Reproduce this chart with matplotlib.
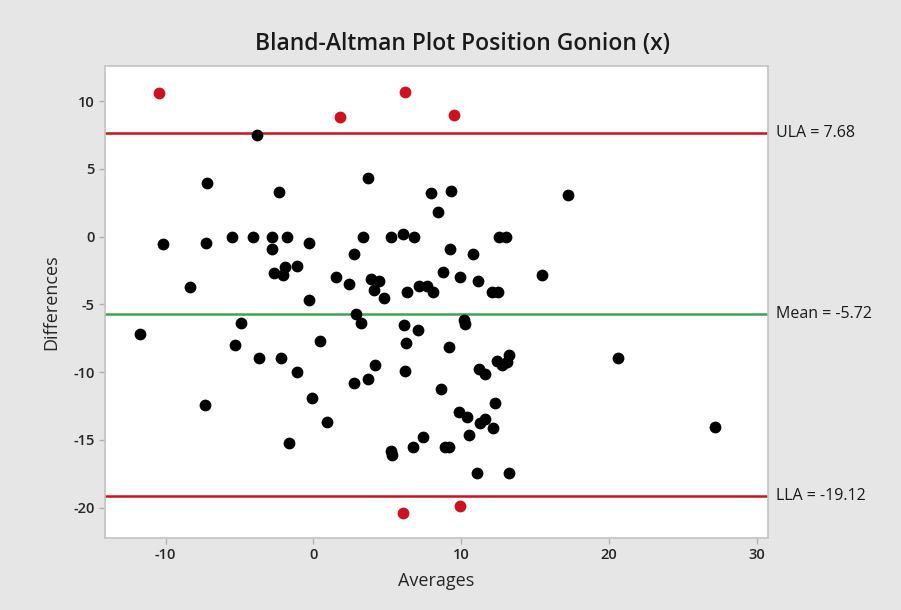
import matplotlib
matplotlib.use('Agg')
import matplotlib.pyplot as plt
import matplotlib.transforms as mtransforms

plt.rcParams['font.family'] = ['Open Sans', 'DejaVu Sans']
plt.rcParams['axes.unicode_minus'] = False

# Bland-Altman data
avg_in = [-3.8, -7.17, -10.19, -7.28, -5.5, -4.08, -8.34, 3.72, -2.3, -2.79,
          -1.8, -2.79, -0.27, 3.34, 5.28, 6.05, 2.75, -2.66, -1.94, -2.03,
          -1.08, 1.54, 2.44, 3.88, 4.47, 4.11, 4.78, 6.32, -0.27, 7.94,
          9.3, 8.46, 17.25, 6.81, 12.58, 13.04, 9.25, 10.78, 8.8, 9.93,
          11.12, 15.45, 7.17, 7.71, 8.08, 12.07, 12.52, -11.72, -4.91, -5.3,
          -3.65, -7.35, 2.89, 3.25, 6.14, 6.27, 0.45, -2.17, -1.08, 4.15,
          3.7, 2.75, 6.18, -0.09, 0.95, -1.66, 5.25, 5.35, 6.77, 10.2,
          10.28, 7.08, 9.16, 11.19, 11.64, 12.45, 12.75, 13.08, 13.22, 8.62,
          12.27, 9.88, 10.42, 11.64, 11.28, 12.14, 10.56, 7.44, 8.93, 9.2,
          11.05, 13.26, 20.64, 27.18]
diff_in = [7.5, 3.94, -0.52, -0.44, 0.0, 0.0, -3.74, 4.31, 3.32, 0.0,
           0.0, -0.93, -0.49, 0.0, 0.0, 0.22, -1.28, -2.66, -2.26, -2.83,
           -2.16, -2.95, -3.49, -3.15, -3.27, -3.93, -4.55, -4.06, -4.67, 3.25,
           3.4, 1.85, 3.08, 0.0, 0.0, 0.0, -0.93, -1.28, -2.58, -2.95,
           -3.29, -2.8, -3.62, -3.62, -4.06, -4.06, -4.06, -7.18, -6.35, -8.02,
           -8.97, -12.44, -5.7, -6.39, -6.49, -7.82, -7.72, -8.97, -9.96, -9.49,
           -10.52, -10.82, -9.89, -11.9, -13.7, -15.25, -15.85, -16.15, -15.54, -6.15,
           -6.44, -6.89, -8.12, -9.79, -10.13, -9.15, -9.45, -9.23, -8.76, -11.27,
           -12.3, -12.92, -13.28, -13.43, -13.77, -14.12, -14.66, -14.8, -15.54, -15.5,
           -17.46, -17.46, -8.97, -14.02]

avg_out = [-10.46, 1.81, 6.22, 9.54, 6.09, 9.93]
diff_out = [10.58, 8.81, 10.68, 8.98, -20.37, -19.87]

mean_diff = -5.72
ula = 7.68
lla = -19.12

text_col = '#262626'
red = '#d0101e'
green = '#3aa655'

fig = plt.figure(figsize=(9.01, 6.10), dpi=100, facecolor='#e6e6e6')
ax = fig.add_axes([0.1165, 0.118, 0.7355, 0.774])
ax.set_facecolor('white')

ax.axhline(ula, color=red, lw=1.8, zorder=1)
ax.axhline(lla, color=red, lw=1.8, zorder=1)
ax.axhline(mean_diff, color=green, lw=1.8, zorder=1)

ax.scatter(avg_in, diff_in, s=72, color='black', zorder=3, linewidths=0)
ax.scatter(avg_out, diff_out, s=72, color=red, zorder=3, linewidths=0)

ax.set_xlim(-14.1, 30.75)
ax.set_ylim(-22.24, 12.6)
ax.set_xticks([-10, 0, 10, 20, 30])
ax.set_yticks([-20, -15, -10, -5, 0, 5, 10])

for s in ax.spines.values():
    s.set_color('#c4c4c4')
    s.set_linewidth(1.2)
ax.tick_params(colors='#b0b0b0', labelcolor=text_col, labelsize=10.5, length=4, width=1)
for lbl in ax.get_xticklabels() + ax.get_yticklabels():
    lbl.set_fontweight('semibold')

ax.set_xlabel('Averages', fontsize=13, color=text_col, labelpad=7)
ax.set_ylabel('Differences', fontsize=13, color=text_col, labelpad=9)
fig.text(0.513, 0.928, 'Bland-Altman Plot Position Gonion (x)', fontsize=16.5,
         color='#1a1a1a', ha='center', va='center', fontweight='semibold')

trans = mtransforms.blended_transform_factory(ax.transAxes, ax.transData)
ax.text(1.012, ula, 'ULA = %.2f' % ula, transform=trans, va='center', ha='left',
        fontsize=11.5, color='#1a1a1a')
ax.text(1.012, mean_diff, 'Mean = %.2f' % mean_diff, transform=trans, va='center',
        ha='left', fontsize=11.5, color='#1a1a1a')
ax.text(1.012, lla, 'LLA = %.2f' % lla, transform=trans, va='center', ha='left',
        fontsize=11.5, color='#1a1a1a')

fig.savefig('out.png', dpi=100, facecolor=fig.get_facecolor())
